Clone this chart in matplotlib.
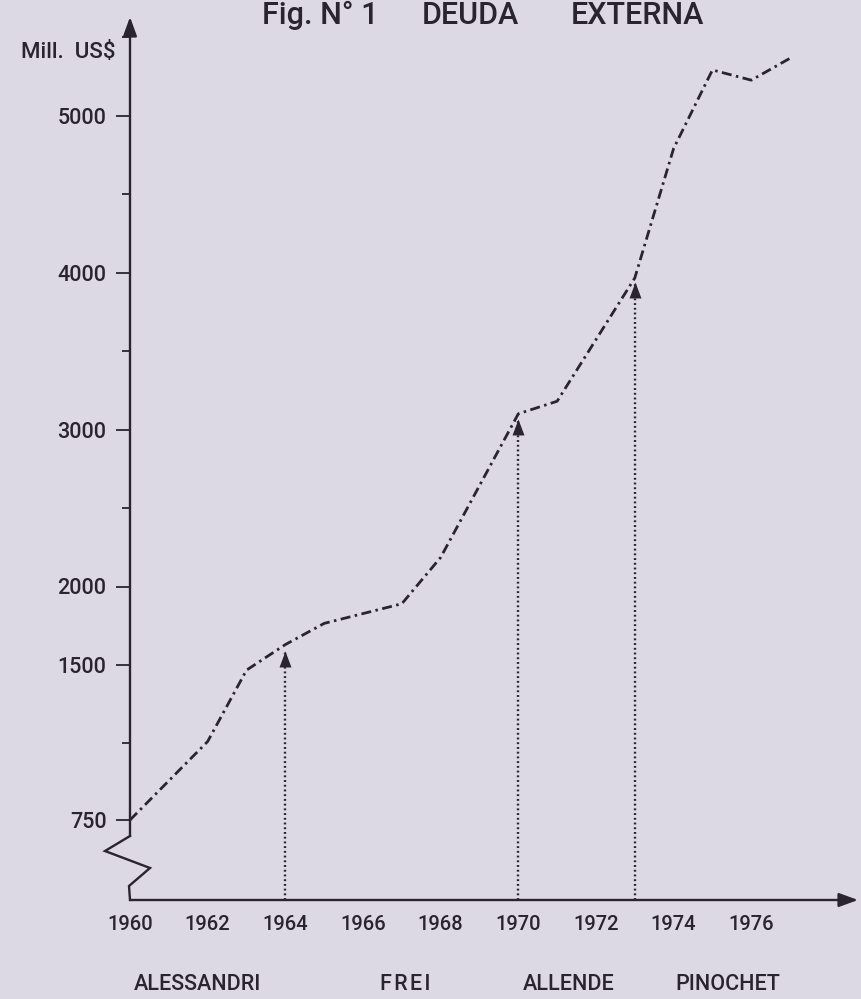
import matplotlib
matplotlib.use("Agg")
import matplotlib.pyplot as plt
import numpy as np

# Deuda externa de Chile (millones de US$)
ANIOS = [1960, 1962, 1963, 1964, 1965, 1967, 1968, 1970, 1971, 1973, 1974, 1975, 1976, 1977]
DEUDA = [750, 1130, 1475, 1630, 1765, 1890, 2185, 3100, 3180, 3965, 4790, 5290, 5225, 5365]

ANIOS_ETIQUETAS = [1960, 1962, 1964, 1966, 1968, 1970, 1972, 1974, 1976]
Y_ETIQUETAS = [750, 1500, 2000, 3000, 4000, 5000]
Y_MENORES = [1125, 2500, 3500, 4500, 5500]

# cambios de gobierno, señalados con flechas punteadas
ANIOS_FLECHAS = [1964, 1970, 1973]
PUNTAS_FLECHAS = [1590, 3070, 3940]

PRESIDENTES = ["ALESSANDRI", "F\u200aR\u200aE\u200aI", "ALLENDE", "PINOCHET"]
POS_PRESIDENTES = [1961.75, 1967.1, 1971.3, 1975.4]

TITULO = ["Fig. N° 1", "DEUDA", "EXTERNA"]
POS_TITULO = [320, 470, 637]

TINTA = "#2a2330"
FONDO = "#ddd9e4"

# escala quebrada : el tramo bajo 1500 va comprimido (750 ocupa dos marcas)
QUIEBRE_V = [363, 1500, 6000]
QUIEBRE_P = [0, 235, 941.5]


def directa(v):
    return np.interp(v, QUIEBRE_V, QUIEBRE_P)


def inversa(p):
    return np.interp(p, QUIEBRE_P, QUIEBRE_V)


plt.rcParams["font.family"] = ["Roboto", "DejaVu Sans"]
plt.rcParams["font.weight"] = "medium"

fig = plt.figure(figsize=(8.61, 9.99), dpi=100, facecolor=FONDO)
ax = fig.add_axes([130 / 861, 99 / 999, 728 / 861, 883 / 999])
ax.set_facecolor("none")
ax.set_yscale("function", functions=(directa, inversa))
ax.set_xlim(1960, 1960 + 728 / 38.83)
ax.set_ylim(363, inversa(883))
for lado in ax.spines.values():
    lado.set_visible(False)

# ejes con flecha
flecha = dict(arrowstyle="-|>,head_length=1.15,head_width=0.42", color=TINTA, lw=1.7,
              shrinkA=0, shrinkB=0)
ax.annotate("", xy=(1, 0), xytext=(0, 0), xycoords="axes fraction", arrowprops=flecha)
ax.annotate("", xy=(0, 1), xytext=(0, 64 / 883), xycoords="axes fraction", arrowprops=flecha)
zig_x = np.array([0, -25, 20, -1, 0]) / 728
zig_y = np.array([64, 49, 32, 14, 0]) / 883
ax.plot(zig_x, zig_y, color=TINTA, lw=1.7, transform=ax.transAxes, clip_on=False,
        solid_joinstyle="miter")

ax.set_yticks(Y_ETIQUETAS)
ax.set_yticklabels([str(v) for v in Y_ETIQUETAS])
ax.set_yticks(Y_MENORES, minor=True)
ax.tick_params(axis="y", which="major", length=10, width=1.3, pad=7, labelsize=15.5,
               colors=TINTA)
ax.tick_params(axis="y", which="minor", length=6, width=1.3, colors=TINTA)

ax.set_xticks(ANIOS_ETIQUETAS)
ax.set_xticklabels([str(a) for a in ANIOS_ETIQUETAS])
ax.set_xticks(ANIOS_FLECHAS[:2], minor=True)
ax.tick_params(axis="x", which="major", length=0, pad=11, labelsize=14.5, colors=TINTA)
ax.tick_params(axis="x", which="minor", length=4, width=1.3, colors=TINTA)

# curva de la deuda
ax.plot(ANIOS, DEUDA, color=TINTA, lw=2.0, linestyle=(0, (3.6, 1.6, 0.9, 1.6)),
        clip_on=False)

# flechas punteadas
ax.vlines(ANIOS_FLECHAS, 363, PUNTAS_FLECHAS, colors=TINTA, lw=1.7,
          linestyles=[(0, (0.8, 1.2))])
ax.plot(ANIOS_FLECHAS, PUNTAS_FLECHAS, linestyle="none", color=TINTA, ms=23, mew=0,
        marker=[(0, 0), (-0.375, -1), (0.375, -1)])

for nombre, x in zip(PRESIDENTES, POS_PRESIDENTES):
    ax.text(x, -0.096, nombre, transform=ax.get_xaxis_transform(), ha="center",
            va="center", fontsize=15.5, color=TINTA)

fig.text(68 / 861, 1 - 53 / 999, "Mill.  US$", ha="center", va="center", fontsize=16,
         color=TINTA)
for parte, x in zip(TITULO, POS_TITULO):
    fig.text(x / 861, 1 - 1 / 999, parte, ha="center", va="top", fontsize=22,
             color=TINTA)

fig.savefig("out.png", dpi=100, facecolor=FONDO)
